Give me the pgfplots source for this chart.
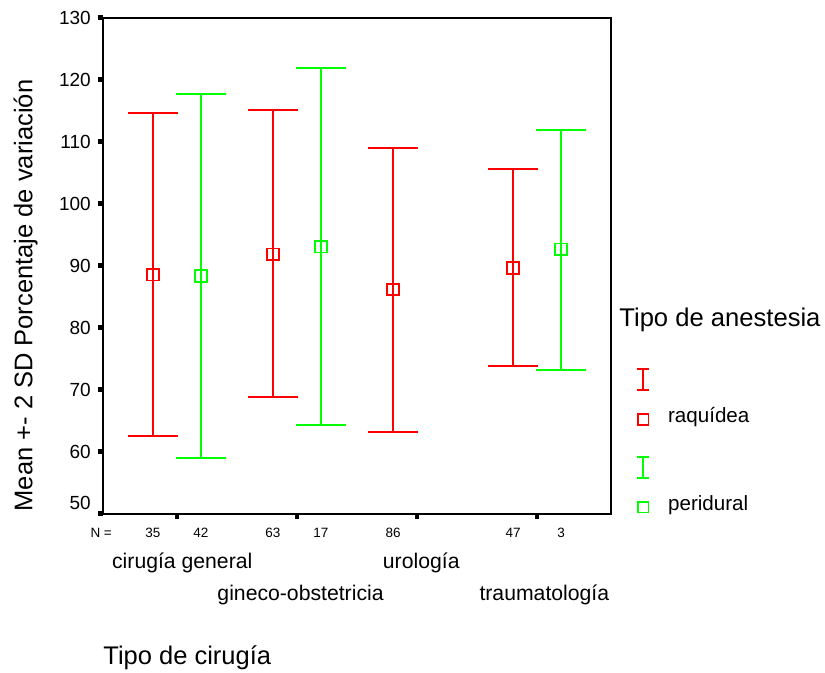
\documentclass[border=0pt]{standalone}
\usepackage{fontspec}
\setmainfont{Liberation Sans}
\usepackage{pgfplots}
\pgfplotsset{compat=1.18}
\definecolor{myred}{RGB}{255,0,0}
\definecolor{mygreen}{RGB}{0,255,0}
\newcommand{\fs}[1]{\fontsize{#1}{#1}\selectfont}
\begin{document}
\begin{tikzpicture}
\useasboundingbox (0,0) rectangle (412.5pt,336.5pt);
\begin{axis}[
  at={(51.5pt,79.5pt)}, anchor=south west,
  scale only axis, width=254pt, height=248pt,
  xmin=0.385, xmax=4.615, ymin=50, ymax=130,
  xtick={1,2,3,4}, xticklabels={},
  ytick={60,70,...,130},
  extra y ticks={50},
  extra y tick style={yticklabel style={yshift=5.5pt}},
  xtick pos=left, ytick pos=left,
  axis line style={line width=1.1pt},
  tick align=outside, major tick length=2.6pt,
  x tick style={line width=2pt, black},
  y tick style={line width=2.5pt, black},
  yticklabel style={font=\fs{9.5}},
  /pgf/number format/assume math mode=true,
  clip=false,
  xlabel={Tipo de cirugía},
  xlabel style={at={(axis description cs:0,-0.3044)}, anchor=base west, inner sep=0pt, font=\fs{12.75}},
  ylabel={Mean +- 2 SD Porcentaje de variación},
  ylabel style={at={(axis description cs:-0.1388,0.4405)}, anchor=base, inner sep=0pt, font=\fs{12.75}},
  legend style={at={(axis description cs:1.0486,0.2944)}, anchor=north west, draw=none, fill=none,
    inner sep=0pt, font=\fs{10.3}, row sep=11pt,
    nodes={inner sep=0pt, text height=7pt, text depth=3pt},
    /tikz/every odd column/.append style={column sep=9pt}},
  legend cell align=left,
]
% red: raquidea
\addplot+[forget plot, only marks, color=myred, mark=square, mark size=2.9pt,
  mark options={line width=0.9pt, draw=myred, fill=none},
  error bars/.cd, y dir=both, y explicit,
  error bar style={myred, line width=1pt},
  error mark options={myred, line width=1pt, mark size=12.4pt, rotate=90}]
  coordinates {
  (0.8, 88.6) += (0,26.0) -= (0,26.0)
  (1.8, 91.9) += (0,23.3) -= (0,23.1)
  (2.8, 86.2) += (0,22.9) -= (0,22.9)
  (3.8, 89.7) += (0,15.9) -= (0,15.8)
  };
% green: peridural
\addplot+[forget plot, only marks, color=mygreen, mark=square, mark size=2.9pt,
  mark options={line width=0.9pt, draw=mygreen, fill=none},
  error bars/.cd, y dir=both, y explicit,
  error bar style={mygreen, line width=1pt},
  error mark options={mygreen, line width=1pt, mark size=12.4pt, rotate=90}]
  coordinates {
  (1.2, 88.4) += (0,29.4) -= (0,29.3)
  (2.2, 93.1) += (0,28.9) -= (0,28.8)
  (4.2, 92.7) += (0,19.3) -= (0,19.4)
  };
\addlegendimage{legend image code/.code={\draw[myred,line width=1pt] (3pt,-5.25pt)--(3pt,5.25pt) (0pt,5.25pt)--(6pt,5.25pt) (0pt,-5.25pt)--(6pt,-5.25pt);}}
\addlegendentry{}
\addlegendimage{legend image code/.code={\draw[myred,line width=0.9pt] (0.3pt,-0.65pt) rectangle (5.7pt,4.75pt);}}
\addlegendentry{\raisebox{2.5pt}{raquídea}}
\addlegendimage{legend image code/.code={\draw[mygreen,line width=1pt] (3pt,-5.25pt)--(3pt,5.25pt) (0pt,5.25pt)--(6pt,5.25pt) (0pt,-5.25pt)--(6pt,-5.25pt);}}
\addlegendentry{}
\addlegendimage{legend image code/.code={\draw[mygreen,line width=0.9pt] (0.3pt,-0.65pt) rectangle (5.7pt,4.75pt);}}
\addlegendentry{\raisebox{2.5pt}{peridural}}
% N labels
\node[font=\fs{6.75}, inner sep=0pt] at (axis cs:0.37,50) [yshift=-9.5pt] {N =};
\node[font=\fs{6.75}, inner sep=0pt] at (axis cs:0.8,50) [yshift=-9.5pt] {35};
\node[font=\fs{6.75}, inner sep=0pt] at (axis cs:1.2,50) [yshift=-9.5pt] {42};
\node[font=\fs{6.75}, inner sep=0pt] at (axis cs:1.8,50) [yshift=-9.5pt] {63};
\node[font=\fs{6.75}, inner sep=0pt] at (axis cs:2.2,50) [yshift=-9.5pt] {17};
\node[font=\fs{6.75}, inner sep=0pt] at (axis cs:2.8,50) [yshift=-9.5pt] {86};
\node[font=\fs{6.75}, inner sep=0pt] at (axis cs:3.8,50) [yshift=-9.5pt] {47};
\node[font=\fs{6.75}, inner sep=0pt] at (axis cs:4.2,50) [yshift=-9.5pt] {3};
% category labels
\node[font=\fs{10.6}, inner sep=0pt] at (axis cs:1.045,50) [yshift=-24.5pt] {cirugía general};
\node[font=\fs{10.6}, inner sep=0pt] at (axis cs:2.03,50) [yshift=-40.5pt] {gineco-obstetricia};
\node[font=\fs{10.6}, inner sep=0pt] at (axis cs:3.035,50) [yshift=-24.5pt] {urología};
\node[font=\fs{10.6}, inner sep=0pt] at (axis cs:4.06,50) [yshift=-40.5pt] {traumatología};
% legend title
\node[font=\fs{12.8}, inner sep=0pt, anchor=base west] at (axis description cs:1.0157,0.3776) {Tipo de anestesia};
\end{axis}
\end{tikzpicture}
\end{document}
